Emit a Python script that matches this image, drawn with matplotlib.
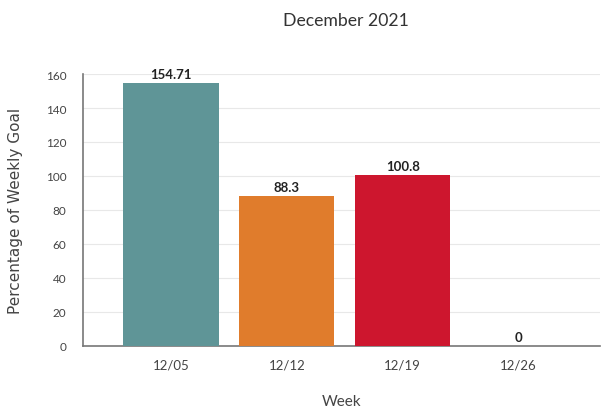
import matplotlib

matplotlib.use("Agg")
import matplotlib.pyplot as plt

plt.rcParams["font.family"] = ["Lato", "DejaVu Sans"]

weeks = ["12/05", "12/12", "12/19", "12/26"]
pct_of_goal = [154.71, 88.3, 100.8, 0]
value_labels = ["154.71", "88.3", "100.8", "0"]
bar_colors = ["#5f9597", "#e07c2c", "#cd162e", "#888888"]

fig = plt.figure(figsize=(6.01, 4.10), dpi=100)
ax = fig.add_axes([0.138, 0.154, 0.860, 0.663])

x = range(len(weeks))
ax.bar(x, pct_of_goal, width=0.82, color=bar_colors, zorder=3)
for xi, v, lab in zip(x, pct_of_goal, value_labels):
    ax.text(xi, v + 1.5, lab, ha="center", va="bottom", fontsize=9.5,
            fontweight="bold", color="#222222", zorder=4)

ax.set_xlim(-0.76, 3.70)
ax.set_ylim(0, 160)
ax.set_yticks(range(0, 161, 20))
ax.set_xticks(list(x))
ax.set_xticklabels(weeks)
ax.tick_params(axis="both", length=0, colors="#444444")
ax.tick_params(axis="x", pad=9, labelsize=9.5)
ax.tick_params(axis="y", pad=12, labelsize=8.5)
ax.grid(axis="y", color="#e8e8e8", linewidth=0.8, zorder=0)

for side in ("top", "right"):
    ax.spines[side].set_visible(False)
for side in ("left", "bottom"):
    ax.spines[side].set_color("#777777")
    ax.spines[side].set_linewidth(1.2)

ax.set_xlabel("Week", fontsize=11, color="#444444", labelpad=17)
ax.set_ylabel("Percentage of Weekly Goal", fontsize=11, color="#444444", labelpad=16,
              family="DejaVu Sans")
fig.text(0.575, 0.95, "December 2021", ha="center", va="center", fontsize=12.7, color="#333333")

fig.savefig("out.png", dpi=100)
